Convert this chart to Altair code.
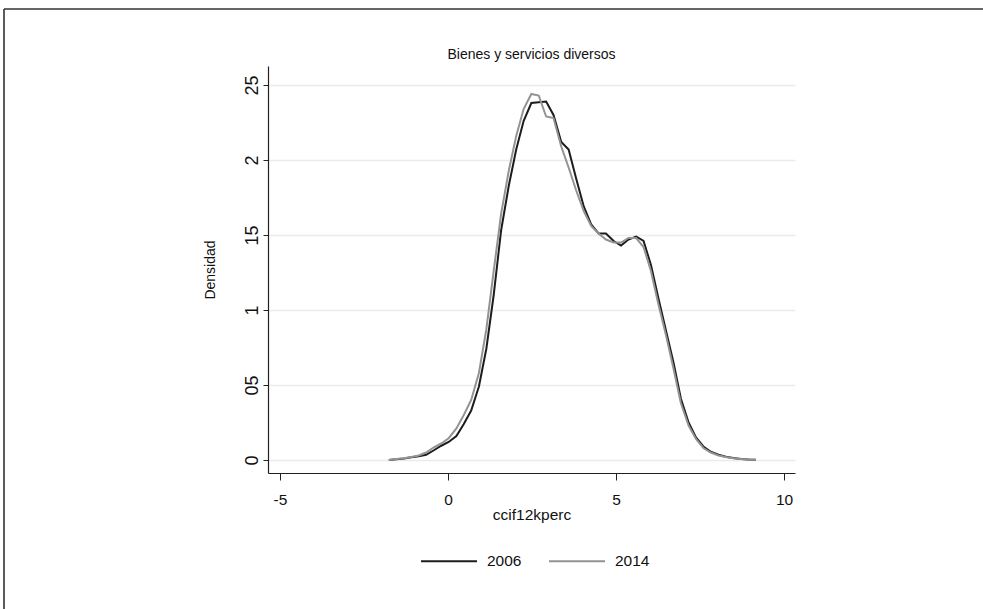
import altair as alt
import pandas as pd

# ---- data ----
x_grid = [-1.76, -1.54, -1.31, -1.09, -0.87, -0.65, -0.42, -0.20, 0.02, 0.25,
          0.47, 0.69, 0.92, 1.14, 1.36, 1.58, 1.81, 2.03, 2.25, 2.48,
          2.70, 2.92, 3.14, 3.37, 3.59, 3.81, 4.04, 4.26, 4.48, 4.70,
          4.93, 5.15, 5.37, 5.60, 5.82, 6.04, 6.26, 6.49, 6.71, 6.93,
          7.16, 7.38, 7.60, 7.82, 8.05, 8.27, 8.49, 8.72, 8.94, 9.16]

dens_2006 = [0.0000, 0.0005, 0.0010, 0.0018, 0.0025, 0.0035, 0.0065, 0.0095, 0.0120, 0.0160,
             0.0240, 0.0330, 0.0490, 0.0740, 0.1100, 0.1530, 0.1830, 0.2070, 0.2260, 0.2380,
             0.2385, 0.2390, 0.2300, 0.2120, 0.2070, 0.1880, 0.1690, 0.1570, 0.1510, 0.1510,
             0.1460, 0.1430, 0.1470, 0.1490, 0.1460, 0.1300, 0.1080, 0.0860, 0.0650, 0.0410,
             0.0250, 0.0150, 0.0090, 0.0055, 0.0035, 0.0022, 0.0013, 0.0007, 0.0003, 0.0001]

dens_2014 = [0.0000, 0.0006, 0.0012, 0.0020, 0.0030, 0.0050, 0.0085, 0.0110, 0.0145, 0.0210,
             0.0300, 0.0400, 0.0580, 0.0870, 0.1260, 0.1640, 0.1930, 0.2160, 0.2340, 0.2440,
             0.2430, 0.2290, 0.2280, 0.2090, 0.1950, 0.1800, 0.1660, 0.1560, 0.1510, 0.1470,
             0.1450, 0.1450, 0.1480, 0.1480, 0.1420, 0.1260, 0.1040, 0.0830, 0.0610, 0.0380,
             0.0230, 0.0140, 0.0080, 0.0050, 0.0030, 0.0020, 0.0012, 0.0006, 0.0003, 0.0001]

series_names = ["2006", "2014"]
series_colors = ["#1c1c1c", "#939393"]

x_tick_values = [-5, 0, 5, 10]
x_tick_labels = ["-5", "0", "5", "10"]
y_tick_values = [0, 0.05, 0.1, 0.15, 0.2, 0.25]
y_tick_labels = ["0", "05", "1", "15", "2", "25"]

title_text = "Bienes y servicios diversos"
x_title = "ccif12kperc"
y_title = "Densidad"

# ---- build table ----
rows = []
for name, vals in zip(series_names, [dens_2006, dens_2014]):
    for xv, yv in zip(x_grid, vals):
        rows.append({"x": xv, "y": yv, "year": name})
df = pd.DataFrame(rows)


def label_expr(values, labels):
    expr = "''"
    for v, l in reversed(list(zip(values, labels))):
        expr = f"abs(datum.value - ({v})) < 1e-9 ? '{l}' : ({expr})"
    return expr


FONT = "Liberation Sans, Arial, Helvetica, sans-serif"

W, H = 527, 407
PAD_L, PAD_T = 268, 66

x_scale = alt.Scale(domain=[-5.357, 10.327], nice=False, zero=False)
y_scale = alt.Scale(domain=[-0.00867, 0.26267], nice=False, zero=False)

lines = alt.Chart(df).mark_line(strokeWidth=2, interpolate="linear").encode(
    x=alt.X("x:Q", scale=x_scale,
            axis=alt.Axis(values=x_tick_values, labelExpr=label_expr(x_tick_values, x_tick_labels),
                          title=x_title, grid=False, tickSize=7, tickWidth=1, tickColor="#222",
                          domainColor="#222", domainWidth=1.2,
                          labelFont=FONT, labelFontSize=15.5, labelColor="#111",
                          labelPadding=12, labelFlush=False,
                          titleFont=FONT, titleFontSize=15.5, titleFontWeight="normal",
                          titleColor="#111", titlePadding=0)),
    y=alt.Y("y:Q", scale=y_scale,
            axis=alt.Axis(values=y_tick_values, labelExpr=label_expr(y_tick_values, y_tick_labels),
                          title=y_title, grid=True, gridColor="#ebebeb", gridWidth=1.6,
                          tickSize=5, tickWidth=1, tickColor="#222",
                          domainColor="#222", domainWidth=1.2,
                          labelAngle=270, labelAlign="center", labelBaseline="alphabetic",
                          labelFont=FONT, labelFontSize=18, labelColor="#111",
                          labelPadding=6, labelFlush=False,
                          titleFont=FONT, titleFontSize=14, titleFontWeight="normal",
                          titleColor="#111", titlePadding=26)),
    color=alt.Color("year:N", scale=alt.Scale(domain=series_names, range=series_colors),
                    legend=alt.Legend(title=None, orient="none", legendX=152, legendY=466,
                                      direction="horizontal", symbolType="stroke",
                                      symbolSize=3136, symbolStrokeWidth=2,
                                      labelFont=FONT, labelFontSize=15.5, labelColor="#111",
                                      labelOffset=9, columnPadding=23, padding=0)),
)

one_df = pd.DataFrame({"a": [0]})
title_mark = alt.Chart(one_df).mark_text(
    font=FONT, fontSize=14, color="#111", align="center", baseline="middle"
).encode(x=alt.value(W / 2), y=alt.value(55 - PAD_T), text=alt.value(title_text))

frame_top = alt.Chart(one_df).mark_rule(color="#333", strokeWidth=1.6).encode(
    x=alt.value(4 - PAD_L), x2=alt.value(983 - PAD_L), y=alt.value(9 - PAD_T))
frame_left = alt.Chart(one_df).mark_rule(color="#333", strokeWidth=1.6).encode(
    x=alt.value(4 - PAD_L), y=alt.value(9 - PAD_T), y2=alt.value(609 - PAD_T))

chart = alt.layer(lines, title_mark, frame_top, frame_left).properties(
    width=W, height=H,
    view=alt.ViewBackground(stroke="transparent", strokeWidth=0),
    autosize=alt.AutoSizeParams(type="none"),
    padding={"left": PAD_L, "top": PAD_T, "right": 983 - PAD_L - W, "bottom": 609 - PAD_T - H},
).configure_view(stroke="transparent", strokeWidth=0).configure(background="white")

chart.save("out.html", embed_options={"renderer": "svg", "actions": False})
